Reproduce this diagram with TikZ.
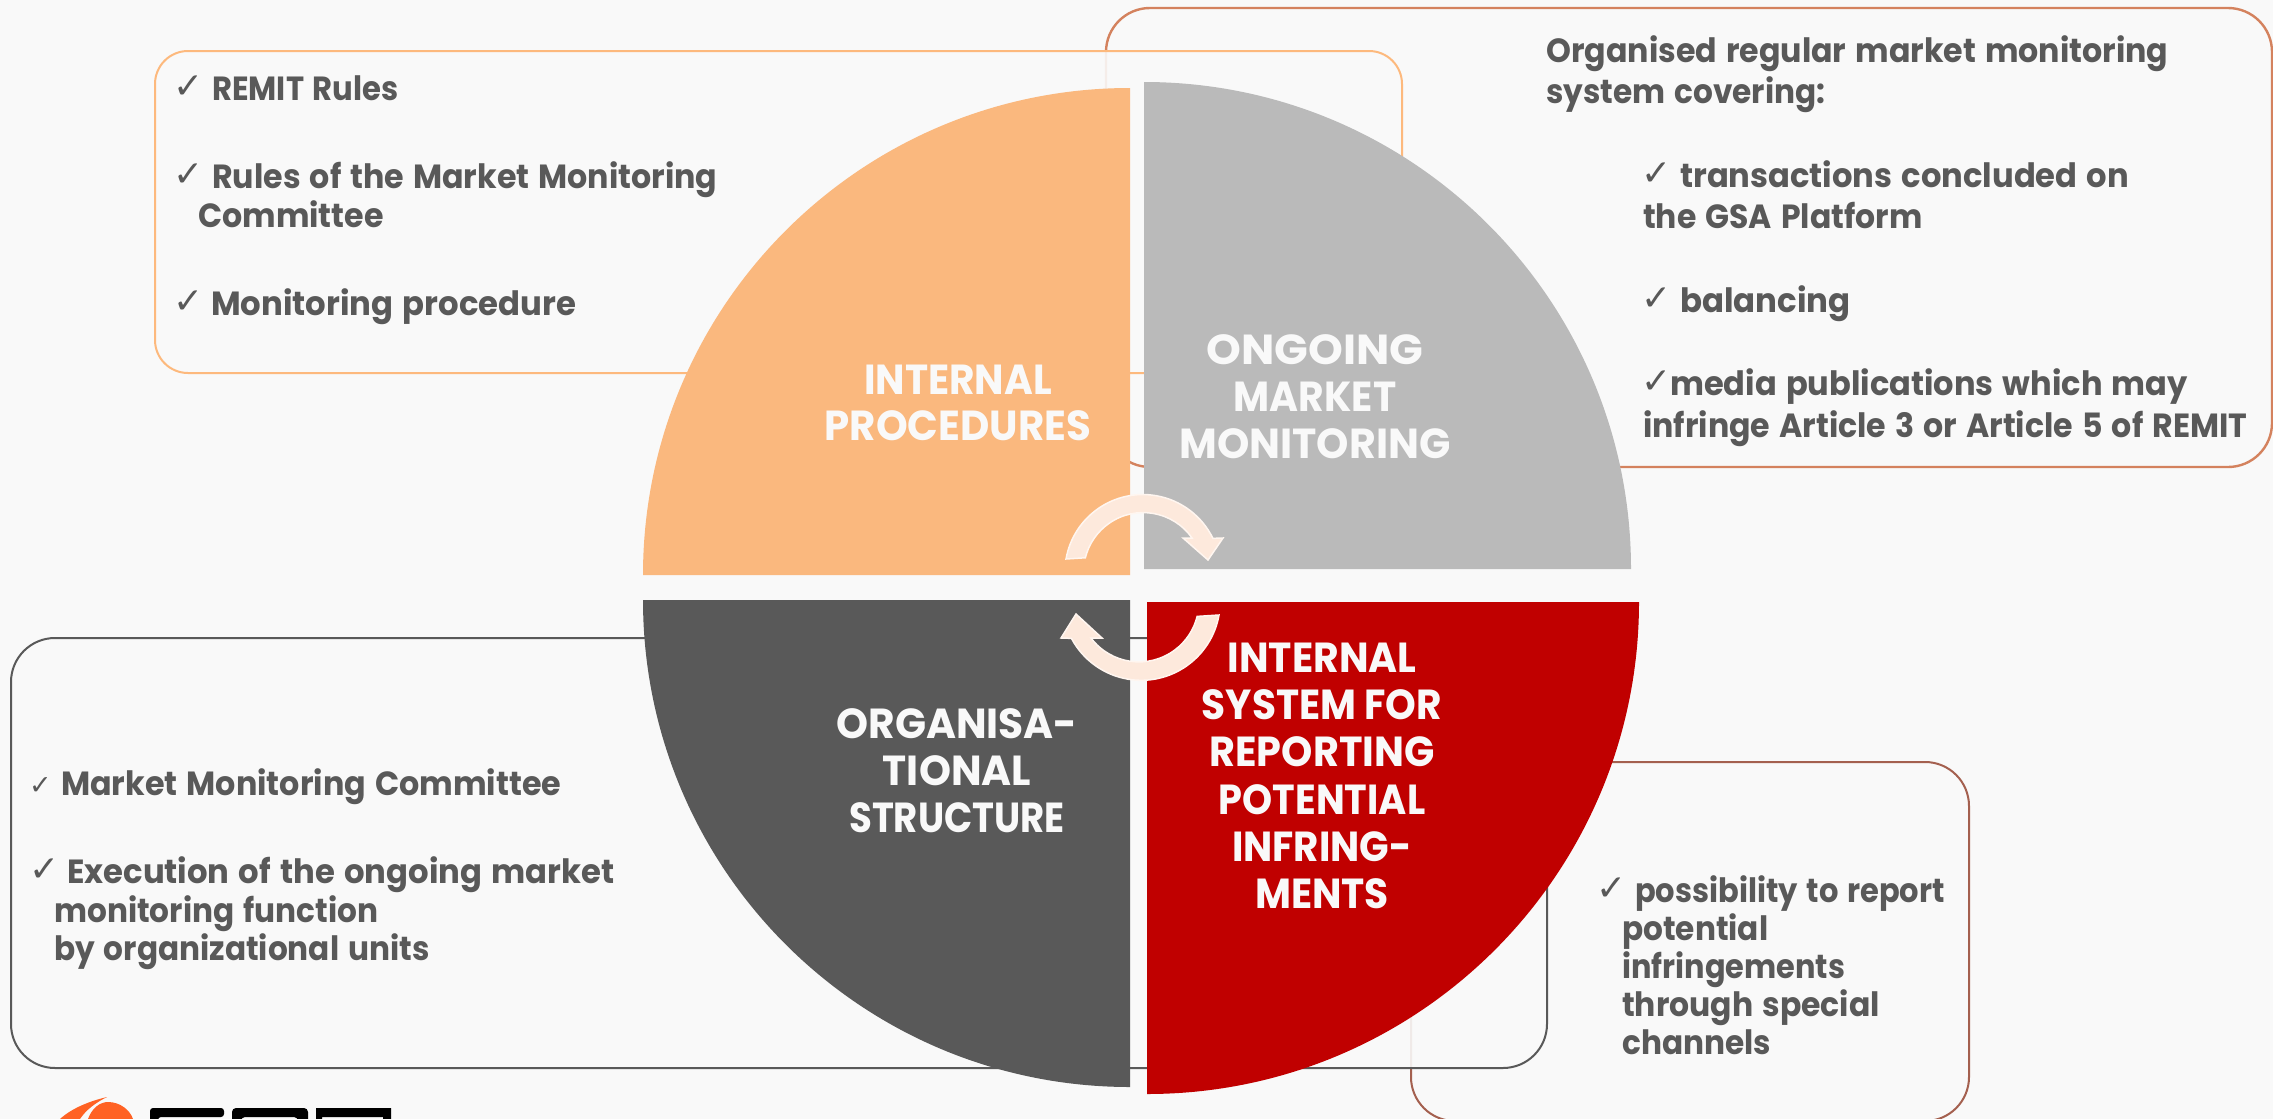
\documentclass[tikz,border=0pt]{standalone}
\usepackage{graphicx}
\usepackage{fontspec}
\setmainfont{Poppins}
\newfontfamily\bodyf[FakeStretch=0.93,WordSpace=1.35]{Poppins}
\newfontfamily\headf[FakeStretch=0.97]{Poppins}
\newfontfamily\headnarrowf[FakeStretch=0.88]{Poppins}
\newfontfamily\chkf{DejaVu Sans}
\newcommand\xs[2]{\scalebox{#1}[1]{#2}}
\definecolor{bgc}{HTML}{F9F9F9}
\definecolor{txtc}{HTML}{595959}
\definecolor{orq}{HTML}{FAB87E}
\definecolor{grq}{HTML}{BABABA}
\definecolor{dkq}{HTML}{595959}
\definecolor{rdq}{HTML}{C00000}
\definecolor{brownl}{HTML}{D4825E}
\definecolor{redl}{HTML}{A4604F}
\definecolor{orl}{HTML}{FDB97D}
\definecolor{arrf}{HTML}{FDE9DC}
\definecolor{arrl}{HTML}{FFF6F0}
\definecolor{logoo}{HTML}{FF6224}
\tikzset{
  x=1pt,y=1pt,
  boxpath/.style={rounded corners=44pt,fill=bgc,fill opacity=.9,draw opacity=1},
  bodytext/.style={anchor=base west,inner sep=0pt,text=txtc,font=\bodyf\bfseries\fontsize{33.5}{38}\selectfont},
  chk/.style={anchor=base west,inner sep=0pt,text=txtc,font=\chkf\fontsize{36}{40}\selectfont},
  smallchk/.style={chk,font=\chkf\fontsize{27}{30}\selectfont},
  headtext/.style={anchor=base,inner sep=0pt,text=bgc,font=\headf\bfseries\fontsize{42}{47}\selectfont},
  headnarrow/.style={headtext,font=\headnarrowf\bfseries\fontsize{42}{47}\selectfont},
  roundarrow/.style={fill=arrf,draw=arrl,line width=1.5pt,line join=miter},
}
\begin{document}
\begin{tikzpicture}
\useasboundingbox (0,0) rectangle (2273,-1119);
\fill[bgc] (0,0) rectangle (2273,-1119);
% outlined boxes
\begin{scope}
\clip (0,0) rectangle (2273,-1119);
\draw[boxpath,draw=brownl,line width=2.4pt] (1106,-8) rectangle (2272,-467);
\draw[boxpath,draw=orl,line width=2pt,rounded corners=33pt] (155,-51) rectangle (1402,-373);
\draw[boxpath,draw=redl,line width=2pt] (1411,-762) rectangle (1969,-1121);
\draw[boxpath,draw=dkq,line width=2pt] (11,-638) rectangle (1547,-1068);
\end{scope}
% pie quadrants
\fill[orq] (1130,-575) -- (643,-575) arc (180:90:487) -- cycle;
\fill[grq] (1144,-569) -- (1144,-82) arc (90:0:487) -- cycle;
\fill[dkq] (1130,-600) -- (1130,-1087) arc (270:180:487) -- cycle;
\fill[rdq] (1147,-602) -- (1639,-602) arc (0:-90:492) -- cycle;
% round arrows
\draw[roundarrow] (1066,-559) arc (170:26:78) -- (1223,-538) -- (1208,-560) -- (1183,-538) -- (1192,-538) arc (35:166:59.6) -- cycle;
\draw[roundarrow] (1219,-615) arc (-10:-152:79) -- (1061,-638) -- (1076,-614) -- (1102,-638) -- (1091,-638) arc (-143:-14:60) -- cycle;
% quadrant titles
\node[headtext] (h1a) at (958,-394) {\xs{.96}{INTERNAL}};
\node[headtext] (h1b) at (958,-440) {\xs{.99}{PROCEDURES}};
\node[headtext] (h2a) at (1315,-364) {\xs{1.087}{ONGOING}};
\node[headtext] (h2b) at (1315,-411) {\xs{.965}{MARKET}};
\node[headtext] (h2c) at (1315,-458) {\xs{1.01}{MONITORING}};
\node[headtext] (h3a) at (957,-738) {ORGANISA-};
\node[headtext] (h3b) at (957,-785) {TIONAL};
\node[headtext] (h3c) at (957,-832) {\xs{.91}{STRUCTURE}};
\node[headnarrow] (h4a) at (1322,-672) {\xs{1.065}{INTERNAL}};
\node[headnarrow] (h4b) at (1322,-719) {\xs{1.058}{SYSTEM FOR}};
\node[headnarrow] (h4c) at (1322,-766) {\xs{1.077}{REPORTING}};
\node[headnarrow] (h4d) at (1322,-814) {\xs{1.036}{POTENTIAL}};
\node[headnarrow] (h4e) at (1322,-861) {\xs{1.05}{INFRING-}};
\node[headnarrow] (h4f) at (1322,-908) {\xs{1.06}{MENTS}};
% orange box text
\node[chk] (oc1) at (173,-98) {✓};
\node[bodytext] (o1) at (212,-100) {\xs{.985}{REMIT Rules}};
\node[chk] (oc2) at (173,-186) {✓};
\node[bodytext] (o2) at (212,-188) {\xs{1.0175}{Rules of the Market Monitoring}};
\node[bodytext] (o3) at (198,-227) {\xs{1.016}{Committee}};
\node[chk] (oc3) at (173,-313) {✓};
\node[bodytext] (o4) at (211,-315) {\xs{1.037}{Monitoring procedure}};
% brown box text
\node[bodytext] (b1) at (1546,-62) {\xs{1.0166}{Organised regular market monitoring}};
\node[bodytext] (b2) at (1546,-103) {system covering:};
\node[chk] (bc1) at (1641,-185) {✓};
\node[bodytext] (b3) at (1680,-187) {\xs{1.033}{transactions concluded on}};
\node[bodytext] (b4) at (1643,-228) {\xs{1.01}{the GSA Platform}};
\node[chk] (bc2) at (1641,-310) {✓};
\node[bodytext] (b5) at (1680,-312) {\xs{1.04}{balancing}};
\node[chk] (bc3) at (1641,-393) {✓};
\node[bodytext] (b6) at (1670,-395) {\xs{1.029}{media publications which may}};
\node[bodytext] (b7) at (1643,-437) {\xs{1.015}{infringe Article 3 or Article 5 of REMIT}};
% dark box text
\node[smallchk] (dc1) at (29,-794) {✓};
\node[bodytext] (d1) at (61,-795) {\xs{1.02}{Market Monitoring Committee}};
\node[chk] (dc2) at (29,-881) {✓};
\node[bodytext] (d2) at (67,-883) {\xs{1.036}{Execution of the ongoing market}};
\node[bodytext] (d3) at (54,-922) {monitoring function};
\node[bodytext] (d4) at (54,-960) {by organizational units};
% red box text
\node[chk] (rc1) at (1596,-900) {✓};
\node[bodytext] (r1) at (1635,-902) {\xs{.98}{possibility to report}};
\node[bodytext] (r2) at (1622,-940) {potential};
\node[bodytext] (r3) at (1622,-978) {\xs{.975}{infringements}};
\node[bodytext] (r4) at (1622,-1016) {\xs{1.01}{through special}};
\node[bodytext] (r5) at (1622,-1054) {channels};
% logo, cut off by the lower edge
\begin{scope}
\clip (0,-1090) rectangle (500,-1119);
\fill[logoo] (60,-1119) .. controls (72,-1108) and (90,-1101) .. (107,-1097) .. controls (95,-1103) and (86,-1110) .. (80,-1119) -- cycle;
\fill[logoo] (88,-1119) .. controls (92,-1108) and (100,-1102) .. (108,-1102) .. controls (120,-1102) and (130,-1110) .. (133,-1119) -- cycle;
\fill[black,rounded corners=3pt] (150,-1125) -- (150,-1108) -- (224,-1108) -- (224,-1117) -- (158,-1117) -- (158,-1125) -- cycle;
\fill[black,rounded corners=4pt] (232,-1125) -- (232,-1108) -- (308,-1108) -- (308,-1125) -- (298,-1125) -- (298,-1117) -- (241,-1117) -- (241,-1125) -- cycle;
\fill[black] (316,-1125) -- (316,-1108) -- (391,-1108) -- (391,-1125) -- (383,-1125) -- (383,-1117) -- (322,-1117) -- (322,-1125) -- cycle;
\end{scope}
\end{tikzpicture}
\end{document}
